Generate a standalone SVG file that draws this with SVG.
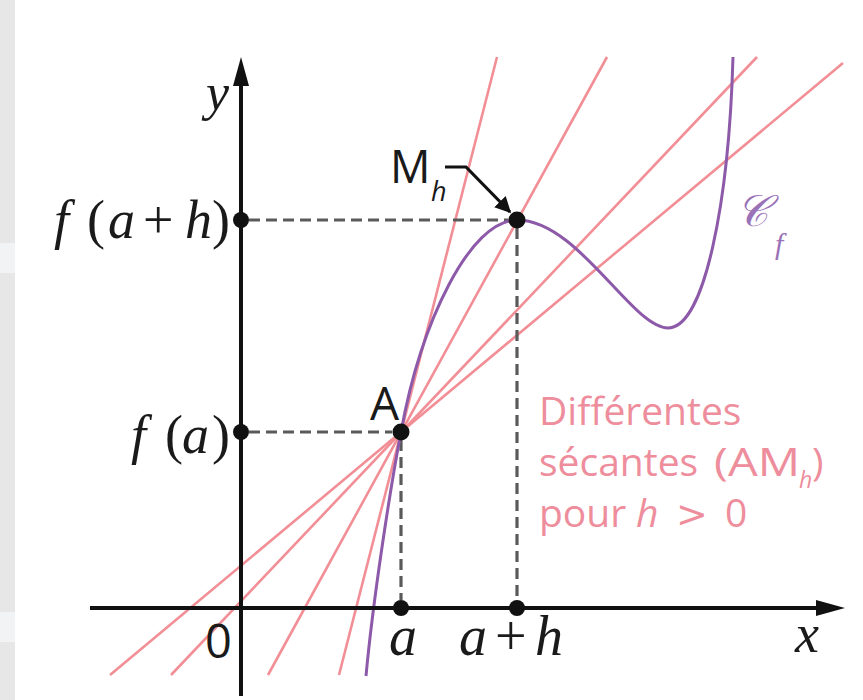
<svg xmlns="http://www.w3.org/2000/svg" width="863" height="700" viewBox="0 0 863 700">
<style>
.serif{font-family:"Liberation Serif","DejaVu Serif",serif;fill:#1a1a1a}
.it{font-style:italic}
.sans{font-family:"Open Sans","Noto Sans",sans-serif;fill:#1a1a1a}
.pink{font-family:"Open Sans","Noto Sans",sans-serif;fill:#ee8d9c}
.sec{stroke:#f28e96;stroke-width:2.6;fill:none}
.dash{stroke:#5a5a5a;stroke-width:3.2;stroke-dasharray:11 6;fill:none}
.axis{stroke:#111;stroke-width:4;fill:none}
.pt{fill:#111}
</style>
<defs>
<marker id="ah" viewBox="0 0 10 10" refX="9" refY="5" markerWidth="5" markerHeight="5" markerUnits="strokeWidth" orient="auto">
<path d="M0,0 L10,5 L0,10 z" fill="#111"/>
</marker>
</defs>
<rect x="0" y="0" width="863" height="700" fill="#ffffff"/>
<rect x="0" y="0" width="15" height="700" fill="#e7e7e7"/>
<rect x="0" y="243" width="15" height="30" fill="#f1f3f5"/>
<rect x="0" y="612" width="15" height="30" fill="#f1f3f5"/>

<g id="connectors">
<g id="secants">
<line class="sec" x1="339" y1="675" x2="497" y2="57"/>
<line class="sec" x1="268" y1="675" x2="607" y2="57"/>
<line class="sec" x1="171" y1="675" x2="757" y2="57"/>
<line class="sec" x1="110" y1="675" x2="843" y2="63"/>
</g>
<g id="dashes">
<line class="dash" x1="249" y1="220" x2="508" y2="220"/>
<line class="dash" x1="517" y1="228" x2="517" y2="600"/>
<line class="dash" x1="249" y1="432" x2="392" y2="432"/>
<line class="dash" x1="401" y1="440" x2="401" y2="600"/>
</g>
<path id="curve" d="M366 676 C373 600 390 490 401 432 C421 322 470 220 517 220 C578 220 632 328 668 328 C705 328 729 200 733 57" fill="none" stroke="#8c5aa8" stroke-width="3"/>
<g id="axes">
<line class="axis" x1="241" y1="696" x2="241" y2="80"/>
<polygon points="241,57 233,86 249,86" fill="#111"/>
<line class="axis" x1="90" y1="608" x2="820" y2="608"/>
<polygon points="845,608 816,600 816,616" fill="#111"/>
</g>
<polyline id="mh-arrow" points="445,167 466,167 510,212" fill="none" stroke="#111" stroke-width="3.2" marker-end="url(#ah)"/>
</g>

<g id="point-fah"><circle class="pt" cx="241" cy="220" r="8"/></g>
<g id="point-Mh"><circle class="pt" cx="517" cy="220" r="8.5"/></g>
<g id="point-fa"><circle class="pt" cx="241" cy="432" r="8"/></g>
<g id="point-A"><circle class="pt" cx="401" cy="432" r="8.5"/></g>
<g id="point-a"><circle class="pt" cx="401" cy="608" r="8"/></g>
<g id="point-ah"><circle class="pt" cx="517" cy="608" r="8"/></g>

<g id="labels">
<text class="serif it" x="206" y="110" font-size="52">y</text>
<text class="serif" y="238" font-size="54"><tspan class="it" x="54">f</tspan><tspan x="87">(</tspan><tspan class="it" x="108">a</tspan><tspan x="143">+</tspan><tspan class="it" x="185">h</tspan><tspan x="212">)</tspan></text>
<text class="serif" y="453" font-size="54"><tspan class="it" x="131">f</tspan><tspan x="165">(</tspan><tspan class="it" x="182">a</tspan><tspan x="212">)</tspan></text>
<text class="sans" x="205" y="658" font-size="47">0</text>
<text class="serif it" x="389" y="655" font-size="56">a</text>
<text class="serif" y="655" font-size="56"><tspan class="it" x="459">a</tspan><tspan x="495">+</tspan><tspan class="it" x="535">h</tspan></text>
<text class="serif it" x="795" y="652" font-size="54">x</text>
<text class="sans" x="370" y="420" font-size="46">A</text>
<text class="sans" x="390" y="183" font-size="45">M</text>
<text class="sans it" x="431" y="201" font-size="27">h</text>
<text x="736" y="226" font-size="44" font-family="DejaVu Serif, serif" font-style="italic" fill="#9a72b8">𝒞</text>
<text x="775" y="254" font-size="30" font-family="Liberation Serif, serif" font-style="italic" fill="#9a72b8">f</text>
<g class="pink" font-size="39">
<text x="539" y="425">Différentes</text>
<text x="539" y="476">sécantes</text>
<text x="714" y="476" textLength="86" lengthAdjust="spacingAndGlyphs">(AM</text>
<text x="799" y="488" font-size="23" font-style="italic">h</text>
<text x="812" y="476">)</text>
<text x="539" y="527">pour</text>
<text x="636" y="527" font-style="italic">h</text>
<text x="676" y="527" font-family="DejaVu Sans, sans-serif" font-size="38">&gt;</text>
<text x="725" y="527">0</text>
</g>
</g>
</svg>
